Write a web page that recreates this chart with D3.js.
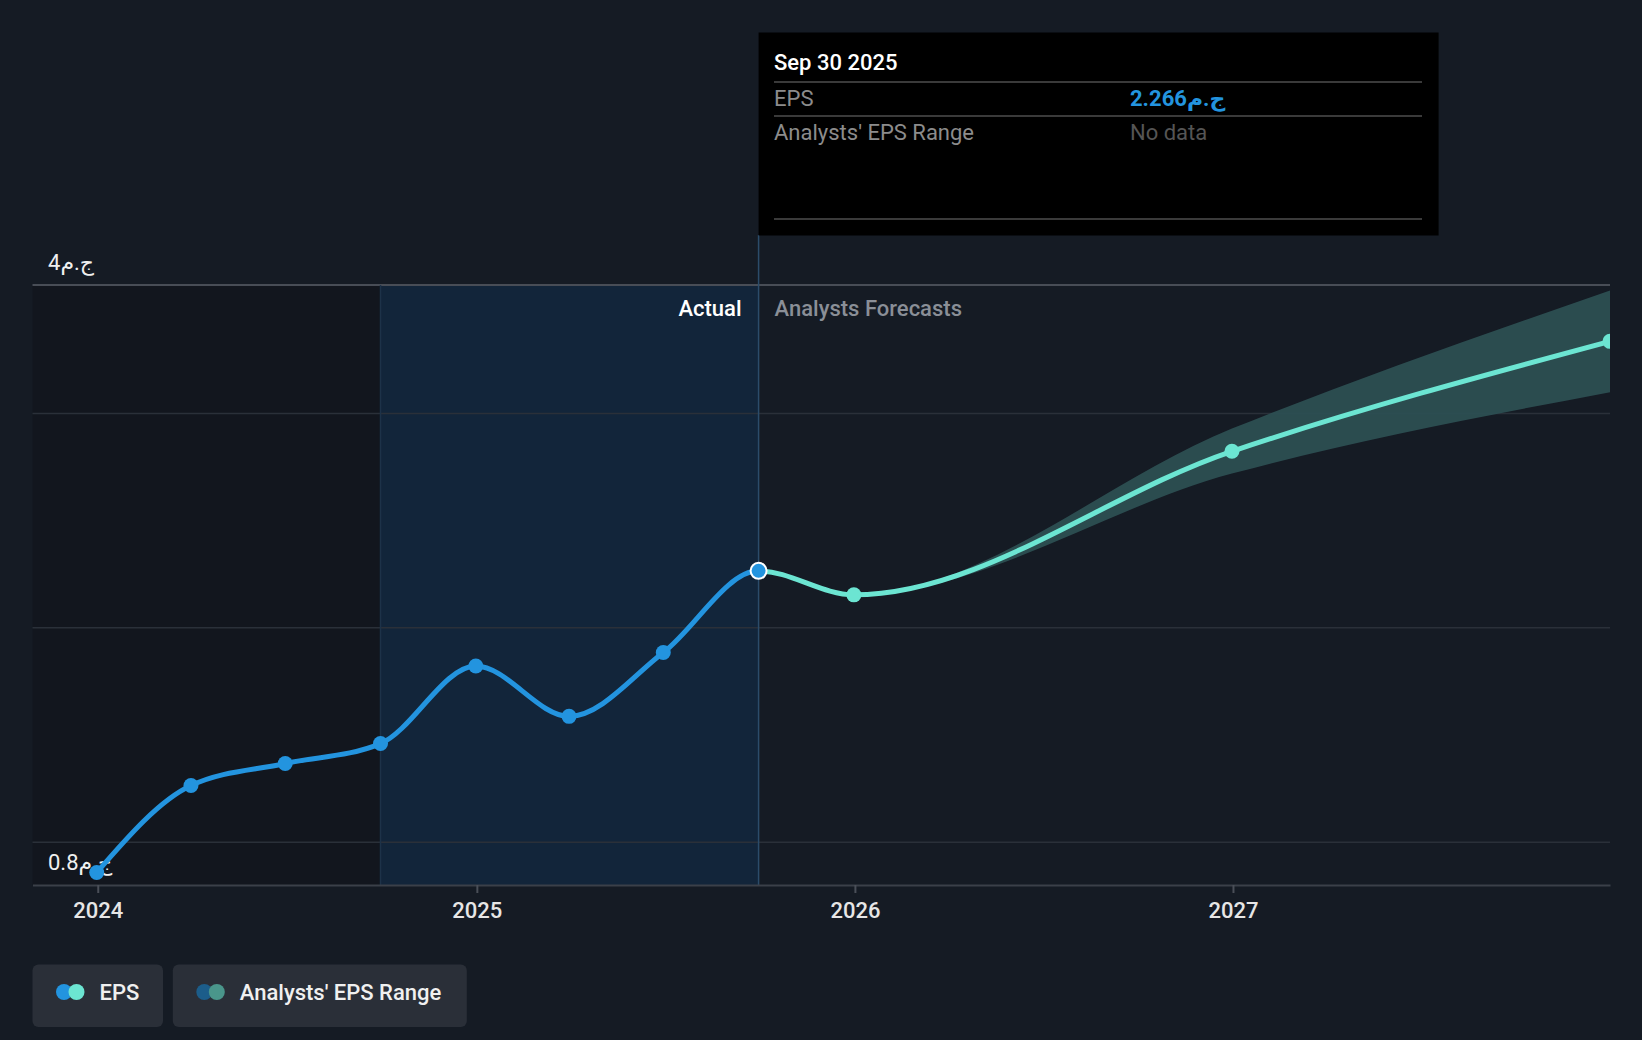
<!DOCTYPE html>
<html>
<head>
<meta charset="utf-8">
<script src="https://cdn.jsdelivr.net/npm/d3@7"></script>
<style>
  html, body { margin: 0; padding: 0; background: #151b24; }
  svg { display: block; font-family: Roboto, "DejaVu Sans", sans-serif; }
</style>
</head>
<body>
<svg id="chart" width="1642" height="1040"></svg>
<script>
// actual EPS, quarterly
const actualDates = ["2023-12-31", "2024-03-31", "2024-06-30", "2024-09-30",
	"2024-12-31", "2025-03-31", "2025-06-30", "2025-09-30"];
const actualEps = [0.858, 1.264, 1.367, 1.460, 1.822, 1.587, 1.885, 2.266];

// analysts forecasts
const forecastDates = ["2025-12-31", "2026-12-31", "2027-12-31"];
const forecastEps = [2.154, 2.824, 3.337];
const rangeDates = ["2025-09-30", "2025-12-31", "2026-12-31", "2027-12-31"];
const rangeLow = [2.266, 2.154, 2.72, 3.10];
const rangeHigh = [2.266, 2.154, 2.93, 3.574];

const gridValues = [1, 2, 3];
const yLabels = [{v: 3.6, text: "4ج.م"}, {v: 0.8, text: "0.8ج.م"}];
const xTicks = ["2024-01-01", "2025-01-01", "2026-01-01", "2027-01-01"];
const legendItems = ["EPS", "Analysts' EPS Range"];

const parse = d3.utcParse("%Y-%m-%d");
const BLUE = "#2394df", TEAL = "#6ce5d2";
const FS = 22;

const x = d3.scaleUtc()
	.domain([parse("2023-10-30"), parse("2027-12-31")])
	.range([32.5, 1610]);
const y = d3.scaleLinear()
	.domain([0.8, 3.6])
	.range([885, 285]);

const svg = d3.select("#chart");
const plotTop = y(3.6), plotBottom = y(0.8);
const pastX = x(parse("2024-09-30")), nowX = x(parse("2025-09-30"));

// background zones
svg.append("rect").attr("x", x.range()[0]).attr("y", plotTop)
	.attr("width", pastX - x.range()[0]).attr("height", plotBottom - plotTop)
	.attr("fill", "#12161e");
svg.append("rect").attr("x", pastX).attr("y", plotTop)
	.attr("width", nowX - pastX).attr("height", plotBottom - plotTop)
	.attr("fill", "#12253a");

// grid
svg.selectAll("line.grid").data(gridValues).enter().append("line")
	.attr("x1", x.range()[0]).attr("x2", x.range()[1])
	.attr("y1", d => y(d)).attr("y2", d => y(d))
	.attr("stroke", "#2a3039").attr("stroke-width", 1.5);
svg.append("line").attr("x1", x.range()[0]).attr("x2", x.range()[1])
	.attr("y1", plotTop).attr("y2", plotTop).attr("stroke", "#484d56").attr("stroke-width", 2);

svg.append("line").attr("x1", pastX).attr("x2", pastX).attr("y1", plotTop).attr("y2", plotBottom)
	.attr("stroke", "#1d3248").attr("stroke-width", 1.5);
svg.append("line").attr("x1", nowX).attr("x2", nowX).attr("y1", 235).attr("y2", plotBottom)
	.attr("stroke", "#2b4c6a").attr("stroke-width", 1.5);

// x axis
const xAxis = svg.append("g").attr("transform", `translate(0,${plotBottom})`)
	.call(d3.axisBottom(x).tickValues(xTicks.map(parse))
		.tickFormat(d3.utcFormat("%Y")).tickSize(8).tickSizeOuter(0));
xAxis.select(".domain").attr("stroke", "#3b4049").attr("stroke-width", 2);
xAxis.selectAll(".tick line").attr("stroke", "#4a4f58").attr("stroke-width", 2);
xAxis.selectAll(".tick text").attr("fill", "#e6e6e6").attr("font-size", FS)
	.attr("font-family", "Roboto, sans-serif").attr("font-weight", 500).attr("dy", 0).attr("y", 33);

// y labels
svg.selectAll("text.ylab").data(yLabels).enter().append("text")
	.attr("x", 48).attr("y", d => y(d.v) - 15)
	.attr("fill", "#f0f0f0").attr("font-size", FS)
	.text(d => d.text);

// zone labels
svg.append("text").attr("x", nowX - 17).attr("y", 316).attr("text-anchor", "end")
	.attr("fill", "#ffffff").attr("font-size", FS).attr("font-weight", 500).text("Actual");
svg.append("text").attr("x", nowX + 16).attr("y", 316)
	.attr("fill", "#8a8f97").attr("font-size", FS).attr("font-weight", 500).text("Analysts Forecasts");

// forecast range band
const band = rangeDates.map((d, i) => ({date: parse(d), lo: rangeLow[i], hi: rangeHigh[i]}));
svg.append("path").datum(band)
	.attr("fill", "#2c4f52").attr("opacity", 0.95)
	.attr("d", d3.area().curve(d3.curveMonotoneX)
		.x(d => x(d.date)).y0(d => y(d.lo)).y1(d => y(d.hi)));

// clips: actual part left of "now", forecast part right of it
const defs = svg.append("defs");
defs.append("clipPath").attr("id", "clipActual").append("rect")
	.attr("x", 0).attr("y", 0).attr("width", nowX).attr("height", 1040);
defs.append("clipPath").attr("id", "clipForecast").append("rect")
	.attr("x", nowX).attr("y", 0).attr("width", x.range()[1] - nowX).attr("height", 1040);

const line = d3.line().curve(d3.curveMonotoneX).x(d => x(d.date)).y(d => y(d.v));
const actual = actualDates.map((d, i) => ({date: parse(d), v: actualEps[i]}));
const forecast = forecastDates.map((d, i) => ({date: parse(d), v: forecastEps[i]}));
const all = actual.concat(forecast);

svg.append("path").datum(all).attr("clip-path", "url(#clipForecast)")
	.attr("fill", "none").attr("stroke", TEAL).attr("stroke-width", 5).attr("d", line);
svg.append("path").datum(all).attr("clip-path", "url(#clipActual)")
	.attr("fill", "none").attr("stroke", BLUE).attr("stroke-width", 5).attr("d", line);

svg.append("g").attr("clip-path", "url(#clipForecast)")
	.selectAll("circle").data(forecast).enter().append("circle")
	.attr("cx", d => x(d.date)).attr("cy", d => y(d.v)).attr("r", 7.5).attr("fill", TEAL);
svg.selectAll("circle.a").data(actual.slice(0, -1)).enter().append("circle")
	.attr("cx", d => x(d.date)).attr("cy", d => y(d.v)).attr("r", 7.5).attr("fill", BLUE);
const last = actual[actual.length - 1];
svg.append("circle").attr("cx", x(last.date)).attr("cy", y(last.v)).attr("r", 8)
	.attr("fill", BLUE).attr("stroke", "#ffffff").attr("stroke-width", 2);

// tooltip
const tip = svg.append("g");
tip.append("rect").attr("x", nowX).attr("y", 32.5).attr("width", 680).attr("height", 203).attr("fill", "#000000");
tip.append("text").attr("x", 774).attr("y", 70).attr("fill", "#ffffff").attr("font-size", FS)
	.attr("font-weight", 500).text(d3.utcFormat("%b %d %Y")(last.date));
[82, 116, 219].forEach(ly => tip.append("line").attr("x1", 774).attr("x2", 1422)
	.attr("y1", ly).attr("y2", ly).attr("stroke", "#3a3a3a").attr("stroke-width", 2));
tip.append("text").attr("x", 774).attr("y", 106).attr("fill", "#8c8c8c").attr("font-size", FS).text("EPS");
tip.append("text").attr("x", 1130).attr("y", 106).attr("fill", BLUE).attr("font-size", FS)
	.attr("font-weight", 700).text(d3.format(".3f")(last.v) + "ج.م");
tip.append("text").attr("x", 774).attr("y", 140).attr("fill", "#8c8c8c").attr("font-size", FS).text("Analysts' EPS Range");
tip.append("text").attr("x", 1130).attr("y", 140).attr("fill", "#555555").attr("font-size", FS).text("No data");

// legend
const legendBoxes = [{x: 32.5, w: 130.5, c1: BLUE, c2: TEAL}, {x: 172.8, w: 294, c1: "#1c5d8a", c2: "#4a968b"}];
const lg = svg.selectAll("g.legend").data(legendItems).enter().append("g");
lg.append("rect").attr("x", (d, i) => legendBoxes[i].x).attr("y", 964.5)
	.attr("width", (d, i) => legendBoxes[i].w).attr("height", 62.5).attr("rx", 6).attr("fill", "#2a2f38");
lg.append("circle").attr("cx", (d, i) => legendBoxes[i].x + 31.5).attr("cy", 992).attr("r", 8)
	.attr("fill", (d, i) => legendBoxes[i].c1);
lg.append("circle").attr("cx", (d, i) => legendBoxes[i].x + 44).attr("cy", 992).attr("r", 8)
	.attr("fill", (d, i) => legendBoxes[i].c2);
lg.append("text").attr("x", (d, i) => legendBoxes[i].x + 67).attr("y", 1000)
	.attr("fill", "#f0f0f0").attr("font-size", FS).attr("font-weight", 500).text(d => d);
</script>
</body>
</html>
